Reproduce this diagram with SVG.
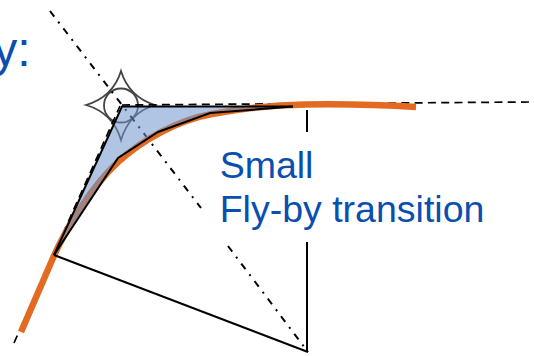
<svg xmlns="http://www.w3.org/2000/svg" width="534" height="356" viewBox="0 0 534 356">
<style>
.t{font-family:"Liberation Sans",Arial,sans-serif;font-size:37.500px;fill:#0a4fb0}
.k{fill:none;stroke:#000;stroke-width:2}
.dd{fill:none;stroke:#000;stroke-width:2;stroke-dasharray:7 6.500 2 6.500}
.d{fill:none;stroke:#000;stroke-width:1.700;stroke-dasharray:8 5.300}
.g{fill:none;stroke:#444;stroke-width:1.800}
</style>
<rect width="534" height="356" fill="#fff"/>
<g id="waypoint"><path class="g" d="M121 71Q129 97 155 105Q129 113 121 140Q113 113 86 105Q113 97 121 71Z"/><circle class="g" cx="121" cy="105.500" r="17"/></g>
<g id="connectors">
<path class="dd" d="M50 11L201 208"/><path class="dd" d="M228 246L308 352"/>
<path class="d" d="M14 343L120 106"/><path class="d" d="M122 105L530 102"/>
<path d="M21 332L53 258C66 228 92 186 118 162C142 140 178 120 212 114C245 108 275 105 305 104.500C345 104 385 105 416 107" fill="none" stroke="#e36a21" stroke-width="6.500"/>
<path d="M54 255L118 158L158 132L210 113L293 106L122 106Z" fill="#6f93cc" fill-opacity=".55"/>
<path class="k" d="M54 255L122 106.500L293 106.500"/>
<path class="k" stroke-width="2.300" d="M54 255L118 158L158 132L210 113L293 106.500"/>
<path class="k" d="M54 255L308 352"/>
<path class="k" d="M307 110V132M307 242V352"/>
</g>
<g id="labels">
<text class="t" style="font-size:48px" x="30.500" y="66" text-anchor="end">y:</text>
<text class="t" x="219.700" y="178">Small</text>
<text class="t" x="219.700" y="222">Fly-by transition</text>
</g>
</svg>
